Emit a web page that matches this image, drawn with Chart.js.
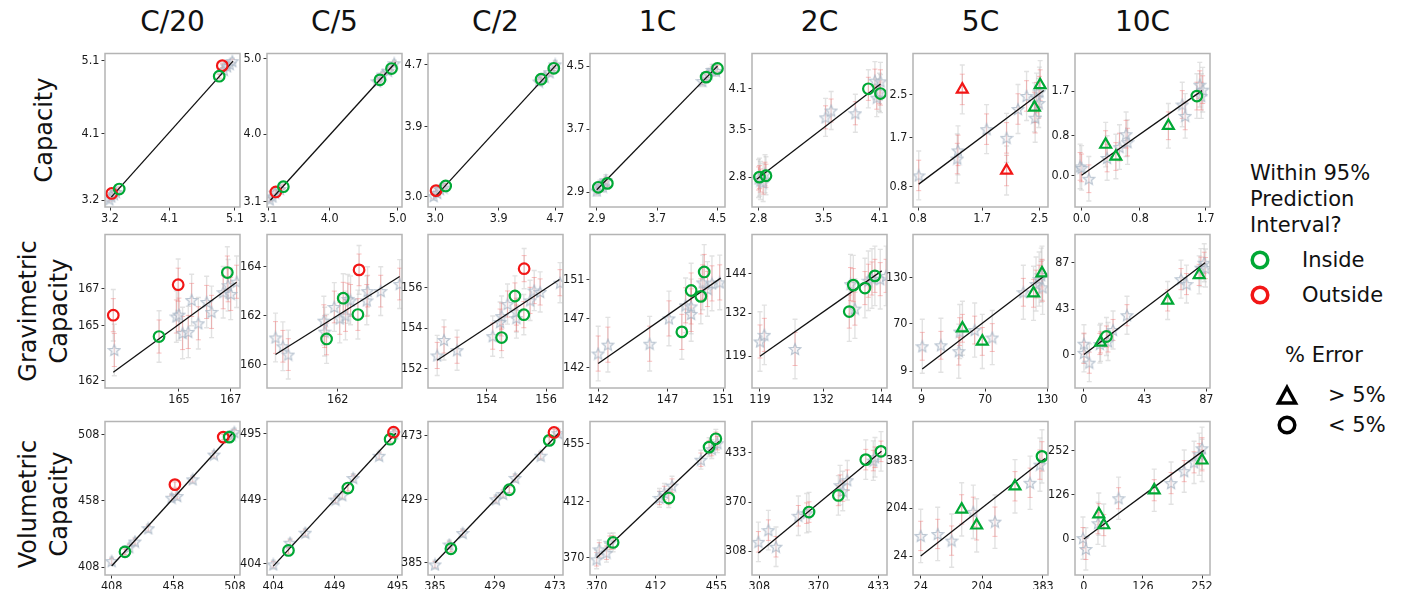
<!DOCTYPE html>
<html>
<head>
<meta charset="utf-8">
<script src="https://cdn.jsdelivr.net/npm/chart.js@4.4.1/dist/chart.umd.min.js"></script>
<style>
  body { margin: 0; background: #fff; width: 1403px; height: 589px; overflow: hidden; position: relative; font-family: "DejaVu Sans", sans-serif; color: #111; }
  canvas.panel { position: absolute; }
  .title { position: absolute; top: 5px; font-size: 28px; transform: translateX(-50%); white-space: nowrap; }
  .rowlab { position: absolute; font-size: 24px; line-height: 31px; text-align: center; white-space: nowrap; transform: translate(-50%, -50%) rotate(-90deg); }
  .leg { position: absolute; font-size: 21px; line-height: 26px; white-space: nowrap; }
  svg.mk { position: absolute; overflow: visible; }
</style>
</head>
<body>
<script>
// column / row names
const columns = ["C/20", "C/5", "C/2", "1C", "2C", "5C", "10C"];
const rowLabels = [["Capacity"], ["Gravimetric", "Capacity"], ["Volumetric", "Capacity"]];
const tickDecimals = [1, 0, 0];

// ---- Capacity row ----
const capXTicks = [[3.2, 4.1, 5.1], [3.1, 4.0, 5.0], [3.0, 3.9, 4.7], [2.9, 3.7, 4.5], [2.8, 3.5, 4.1], [0.8, 1.7, 2.5], [0.0, 0.8, 1.7]];
const capYTicks = capXTicks;
const capXLim = [[3.124, 5.176], [3.08, 5.064], [2.90, 4.81], [2.81, 4.60], [2.73, 4.18], [0.73, 2.62], [-0.09, 1.76]];
const capYLim = [[3.106, 5.194], [3.03, 5.07], [2.87, 4.84], [2.71, 4.66], [2.36, 4.62], [0.43, 3.25], [-0.64, 2.46]];
const capStars = [
  [[3.19, 3.21], [3.22, 3.25], [3.26, 3.28], [3.29, 3.31], [4.93, 4.97], [4.98, 5.02], [5.02, 5.05], [5.06, 5.09]],
  [[3.12, 3.13], [3.16, 3.17], [3.2, 3.22], [3.27, 3.27], [4.70, 4.70], [4.78, 4.79], [4.86, 4.84], [4.95, 4.94]],
  [[2.98, 3.01], [3.03, 3.05], [3.07, 3.1], [3.12, 3.12], [4.47, 4.48], [4.55, 4.54], [4.62, 4.6], [4.70, 4.70]],
  [[2.9, 2.92], [2.94, 2.98], [2.98, 2.97], [3.02, 3.05], [4.30, 4.31], [4.38, 4.40], [4.43, 4.45], [4.48, 4.44]],
  [[2.80, 2.78], [2.82, 2.75], [2.85, 2.72], [2.87, 2.85], [3.52, 3.68], [3.58, 3.78], [3.84, 3.74], [4.05, 4.22], [4.11, 4.21], [4.07, 3.97], [4.1, 4.05]],
  [[0.81, 1.01], [1.35, 1.32], [1.36, 1.47], [1.76, 1.86], [2.04, 1.70], [2.20, 2.23], [2.32, 2.47], [2.46, 2.44], [2.49, 2.34], [2.44, 2.07], [2.5, 2.55]],
  [[-0.02, 0.18], [0.0, 0.15], [0.10, -0.07], [0.35, 0.35], [0.52, 0.57], [0.61, 0.83], [0.63, 0.67], [1.38, 1.43], [1.42, 1.20], [1.62, 1.83], [1.66, 1.73], [1.64, 1.60]]
];
// marks: g/r = inside/outside, c/t = <5% / >5% error
const capMarks = [
  [[3.226, 3.29, "rc"], [3.34, 3.35, "gc"], [4.907, 5.029, "rc"], [4.86, 4.885, "gc"]],
  [[3.21, 3.23, "rc"], [3.32, 3.30, "gc"], [4.74, 4.72, "gc"], [4.91, 4.87, "gc"]],
  [[3.014, 3.08, "rc"], [3.15, 3.14, "gc"], [4.50, 4.51, "gc"], [4.68, 4.65, "gc"]],
  [[2.92, 2.96, "gc"], [3.04, 3.01, "gc"], [4.35, 4.36, "gc"], [4.50, 4.47, "gc"]],
  [[2.81, 2.80, "gc"], [2.88, 2.82, "gc"], [3.98, 4.10, "gc"], [4.11, 4.03, "gc"]],
  [[1.42, 2.59, "rt"], [2.04, 1.10, "rt"], [2.43, 2.26, "gt"], [2.51, 2.67, "gt"]],
  [[0.33, 0.62, "gt"], [0.47, 0.38, "gt"], [1.19, 1.0, "gt"], [1.58, 1.60, "gc"]]
];
const capFit = [[3.22, 3.24, 5.07, 5.09], [3.13, 3.12, 4.97, 4.95], [3.0, 3.0, 4.72, 4.7], [2.9, 2.93, 4.5, 4.5], [2.78, 2.77, 4.11, 4.17], [0.81, 0.85, 2.56, 2.57], [0.0, 0.0, 1.65, 1.71]];
const capErr = [[0.04, 0.025], [0.04, 0.025], [0.05, 0.03], [0.07, 0.04], [0.28, 0.17], [0.45, 0.28], [0.45, 0.28]];

// ---- Gravimetric row ----
const gravXTicks = [[165, 167], [162], [154, 156], [142, 147, 151], [119, 132, 144], [9, 70, 130], [0, 43, 87]];
const gravYTicks = [[162, 165, 167], [160, 162, 164], [152, 154, 156], [142, 147, 151], [119, 132, 144], [9, 70, 130], [0, 43, 87]];
const gravXLim = [[162.14, 167.36], [160.17, 163.66], [152.02, 156.57], [141.41, 151.14], [117.36, 145.09], [0.68, 130.5], [-6.35, 89.6]];
const gravYLim = [[161.61, 169.96], [159.03, 165.32], [151.02, 158.66], [139.91, 155.64], [109.4, 155.8], [-13, 185.7], [-31.7, 113.8]];
const gravStars = [
  [[162.5, 163.68], [164.9, 165.5], [165.0, 165.6], [165.14, 164.6], [165.36, 164.66], [165.49, 166.4], [165.75, 165.13], [166.07, 166.29], [166.26, 165.75], [166.71, 166.82], [167.0, 166.73], [167.23, 167.39], [166.9, 167.2]],
  [[160.39, 161.1], [160.58, 160.74], [160.72, 160.4], [161.64, 161.79], [161.66, 161.34], [161.91, 162.35], [162.05, 161.88], [162.2, 162.0], [162.26, 162.68], [162.33, 162.62], [162.77, 163.0], [162.75, 162.62], [163.11, 163.0], [163.6, 163.29]],
  [[152.33, 152.64], [152.56, 153.41], [153.0, 152.9], [154.2, 153.6], [154.45, 154.3], [154.5, 154.6], [154.7, 155.2], [155.0, 154.5], [155.0, 154.8], [155.46, 155.38], [155.6, 155.87], [155.8, 155.8], [156.47, 156.26]],
  [[142.0, 143.44], [142.7, 144.35], [145.71, 144.45], [147.1, 147.04], [148.3, 148.38], [148.7, 148.27], [148.7, 147.5], [149.53, 150.73], [149.88, 150.06], [150.2, 150.63], [150.76, 150.73]],
  [[119.0, 123.46], [119.9, 125.46], [126.2, 121.2], [138.5, 133.4], [137.6, 140.8], [141.26, 141.83], [142, 142.5], [143.7, 142.3], [144.9, 143.3]],
  [[9.6, 41], [27.5, 42.3], [44.7, 34.7], [45.6, 60], [60, 62], [76.9, 52.3], [106.8, 110.9], [119, 121.6], [122, 128], [125.3, 117.3], [124, 133]],
  [[0, 10.3], [0, 1.6], [3.8, -7.7], [11.3, 10], [17.1, 12.4], [20.7, 23.3], [30.6, 37.3], [69, 71.5], [72.9, 66.8], [83.1, 82.4], [85.5, 87], [86.4, 82]]
];
const gravMarks = [
  [[162.46, 165.57, "rc"], [164.97, 167.23, "rc"], [164.23, 164.41, "gc"], [166.87, 167.89, "gc"]],
  [[162.55, 163.87, "rc"], [162.52, 162.04, "gc"], [161.71, 161.04, "gc"], [162.14, 162.71, "gc"]],
  [[155.26, 156.96, "rc"], [154.95, 155.6, "gc"], [155.25, 154.67, "gc"], [154.5, 153.53, "gc"]],
  [[148.03, 145.66, "gc"], [148.7, 149.9, "gc"], [149.4, 149.3, "gc"], [149.64, 151.8, "gc"]],
  [[137.34, 132.5, "gc"], [138.17, 140.5, "gc"], [140.56, 139.6, "gc"], [142.6, 143.3, "gc"]],
  [[48.2, 64.3, "gt"], [67.3, 47.3, "gt"], [116.6, 109.6, "gt"], [124.7, 135.6, "gt"]],
  [[11.8, 11.5, "gt"], [16.0, 17.1, "gc"], [59.5, 51.3, "gt"], [81.9, 75.5, "gt"]]
];
const gravFit = [[162.46, 162.47, 167.23, 167.36], [160.39, 160.4, 163.6, 163.6], [152.33, 152.4, 156.45, 156.42], [142.0, 142.43, 150.83, 151.17], [119, 119, 144, 144.8], [9.6, 11.5, 125.9, 130.9], [0, 0, 86.1, 87]];
const gravErr = [[1.4, 0.9], [1.0, 0.65], [1.0, 0.65], [2.8, 1.8], [9, 5], [35, 18], [18, 10]];

// ---- Volumetric row ----
const volXTicks = [[408, 458, 508], [404, 449, 495], [385, 429, 473], [370, 412, 455], [308, 370, 433], [24, 204, 383], [0, 126, 252]];
const volYTicks = volXTicks;
const volXLim = [[402.6, 512.1], [399.4, 498.2], [379.9, 478.9], [365.3, 461.1], [300.3, 442.1], [1.4, 397.7], [-19, 269]];
const volYLim = [[402, 518], [396.1, 503.6], [376.5, 482.9], [357.1, 471.6], [277.7, 472.1], [-47, 528.8], [-102, 334]];
const volStars = [
  [[408, 412.5], [422.3, 423], [426.9, 427.3], [437.7, 437.3], [456.6, 460.4], [461.2, 461.7], [473.7, 474.3], [491, 493], [505.3, 508], [507.5, 510]],
  [[404, 403.5], [416.3, 418.7], [427.4, 425.7], [449.5, 448.9], [454.5, 452], [462.5, 464], [481.5, 479.6], [492.5, 495.4]],
  [[385, 383.8], [395.5, 397.6], [405.3, 405.6], [429.7, 429], [435, 432.7], [443.8, 443.8], [462.5, 459.2], [475.4, 474.8]],
  [[370, 368.8], [371.9, 376.2], [377, 373.7], [379.4, 381.2], [414.6, 414.6], [418.1, 418.3], [423.5, 423.8], [444, 443.1], [451.7, 451], [455.7, 455.4]],
  [[307, 319.7], [317.5, 334.5], [325.5, 313.5], [349, 352.7], [357.7, 356], [392.8, 391.5], [395.6, 384], [400.4, 397.7], [427.7, 422.6], [429.5, 426.8]],
  [[24, 99.6], [73.9, 107], [114.9, 82], [178.4, 190], [242, 153], [345, 299], [374, 367]],
  [[-2, 2.8], [4.2, -28], [30, 45], [74, 116], [186, 159], [214, 193], [235, 218], [246, 241], [252, 258]]
];
const volMarks = [
  [[418.8, 419.5, "gc"], [459.3, 470.3, "rc"], [498.5, 506.2, "rc"], [503.4, 506.2, "gc"]],
  [[415.1, 413.3, "gc"], [458.6, 457.0, "gc"], [489.5, 491.2, "gc"], [492, 496.1, "rc"]],
  [[396.7, 394.7, "gc"], [439.5, 435.6, "gc"], [468.8, 469.8, "gc"], [472.3, 475.3, "rc"]],
  [[381.7, 381.4, "gc"], [421.2, 414.5, "gc"], [449.8, 452.5, "gc"], [454.6, 458.7, "gc"]],
  [[360.2, 357.4, "gc"], [391, 378.5, "gc"], [419.8, 423.8, "gc"], [435.8, 434.3, "gc"]],
  [[144.3, 199.1, "gt"], [188.3, 139.3, "gt"], [300.8, 285.8, "gt"], [380, 398, "gc"]],
  [[31.8, 70.8, "gt"], [42.4, 39.7, "gt"], [150, 138.8, "gt"], [252, 223.7, "gt"]]
];
const volFit = [[408, 408.8, 506.6, 509.7], [404, 402.3, 493.7, 495.4], [385, 385, 476.2, 475.3], [370, 370, 456.9, 456.7], [307, 305.5, 436.3, 434.3], [24, 24.5, 389, 390], [0, 0, 256, 252]];
const volErr = [[3, 2], [3, 2], [3, 2], [7, 5], [25, 13], [100, 55], [60, 30]];

const rows = [
  { xt: capXTicks, yt: capYTicks, xl: capXLim, yl: capYLim, stars: capStars, marks: capMarks, fit: capFit, err: capErr },
  { xt: gravXTicks, yt: gravYTicks, xl: gravXLim, yl: gravYLim, stars: gravStars, marks: gravMarks, fit: gravFit, err: gravErr },
  { xt: volXTicks, yt: volYTicks, xl: volXLim, yl: volYLim, stars: volStars, marks: volMarks, fit: volFit, err: volErr }
];

// layout
const colLeft = [105, 267, 428, 590, 752, 913, 1075];
const rowTop = [52, 233, 420];
const boxW = 135, boxH = 155;
const padL = 46, padT = 8, padR = 14, padB = 26;

const GREEN = "#00a835";
const RED = "#f21616";
const FONT = { family: "'DejaVu Sans Condensed', 'DejaVu Sans'", size: 12.5 };

function makeStar(size) {
  const c = document.createElement("canvas");
  c.width = c.height = size;
  const g = c.getContext("2d");
  const cx = size / 2, cy = size / 2 + 0.6, R = size / 2 - 1, r = R * 0.45;
  g.beginPath();
  for (let i = 0; i < 10; i++) {
    const a = -Math.PI / 2 + i * Math.PI / 5;
    const rr = i % 2 ? r : R;
    g.lineTo(cx + rr * Math.cos(a), cy + rr * Math.sin(a));
  }
  g.closePath();
  g.fillStyle = "rgba(232,235,240,0.45)";
  g.fill();
  g.strokeStyle = "rgba(165,180,196,0.75)";
  g.lineWidth = 1.2;
  g.stroke();
  return c;
}
const starImg = makeStar(14);

// error bars under the points + grey frame around the axes
function extrasPlugin(points, err) {
  return {
    id: "extras",
    beforeDatasetsDraw(chart) {
      const { ctx, chartArea: a, scales: { x, y } } = chart;
      ctx.save();
      ctx.beginPath();
      ctx.rect(a.left, a.top, a.right - a.left, a.bottom - a.top);
      ctx.clip();
      const bar = (vx, vy, e, color, w) => {
        const px = x.getPixelForValue(vx);
        const y1 = y.getPixelForValue(vy - e), y2 = y.getPixelForValue(vy + e);
        ctx.strokeStyle = color;
        ctx.lineWidth = w;
        ctx.beginPath();
        ctx.moveTo(px, y1); ctx.lineTo(px, y2);
        ctx.moveTo(px - 2.5, y1); ctx.lineTo(px + 2.5, y1);
        ctx.moveTo(px - 2.5, y2); ctx.lineTo(px + 2.5, y2);
        ctx.stroke();
      };
      points.forEach(p => bar(p[0], p[1], err[0], "rgba(190,190,190,0.45)", 1.4));
      points.forEach(p => bar(p[0], p[1], err[1], "rgba(245,115,115,0.45)", 1));
      ctx.restore();
    },
    afterDraw(chart) {
      const { ctx, chartArea: a } = chart;
      ctx.save();
      ctx.strokeStyle = "#b4b4b4";
      ctx.lineWidth = 1.5;
      ctx.strokeRect(a.left, a.top, a.right - a.left, a.bottom - a.top);
      ctx.restore();
    }
  };
}

function axis(lim, ticks, dec, isY) {
  return {
    type: "linear",
    min: lim[0],
    max: lim[1],
    afterBuildTicks: s => { s.ticks = ticks.map(v => ({ value: v })); },
    afterFit: s => { if (isY) s.width = padL; else s.height = padB; },
    grid: { display: true, drawOnChartArea: false, drawTicks: true, tickLength: 3.5, tickColor: "#333", tickWidth: 1 },
    border: { display: false },
    ticks: {
      font: FONT, color: "#1a1a1a", padding: isY ? 2 : 1,
      autoSkip: false, maxRotation: 0,
      callback: v => Number(v).toFixed(dec)
    }
  };
}

function addDiv(cls, html, css) {
  const d = document.createElement("div");
  d.className = cls;
  d.innerHTML = html;
  Object.assign(d.style, css);
  document.body.appendChild(d);
  return d;
}

// column titles
columns.forEach((t, c) => addDiv("title", t, { left: (colLeft[c] + boxW / 2) + "px" }));
// row labels
rowLabels.forEach((lines, r) => addDiv("rowlab", lines.join("<br>"), { left: "44px", top: (rowTop[r] + boxH / 2 + (r === 2 ? 6 : 0)) + "px" }));

rows.forEach((row, r) => {
  for (let c = 0; c < 7; c++) {
    const cv = document.createElement("canvas");
    cv.className = "panel";
    cv.width = padL + boxW + padR;
    cv.height = padT + boxH + padB;
    cv.style.left = (colLeft[c] - padL) + "px";
    cv.style.top = (rowTop[r] - padT) + "px";
    document.body.appendChild(cv);

    const stars = row.stars[c];
    const marks = row.marks[c];
    const fit = row.fit[c];
    const allPts = stars.concat(marks.map(m => [m[0], m[1]]));

    new Chart(cv, {
      type: "scatter",
      data: {
        datasets: [
          {
            label: "marks",
            order: 0,
            data: marks.map(m => ({ x: m[0], y: m[1] })),
            pointStyle: marks.map(m => m[2][1] === "t" ? "triangle" : "circle"),
            pointRadius: marks.map(m => m[2][1] === "t" ? 6.3 : 5.3),
            pointBorderColor: marks.map(m => m[2][0] === "g" ? GREEN : RED),
            pointBackgroundColor: "rgba(0,0,0,0)",
            pointBorderWidth: 2.2
          },
          {
            label: "fit",
            order: 1,
            data: [{ x: fit[0], y: fit[1] }, { x: fit[2], y: fit[3] }],
            showLine: true,
            borderColor: "#111",
            borderWidth: 1.3,
            pointRadius: 0
          },
          {
            label: "stars",
            order: 2,
            data: stars.map(p => ({ x: p[0], y: p[1] })),
            pointStyle: starImg,
            pointRadius: 7
          }
        ]
      },
      options: {
        responsive: false,
        animation: false,
        events: [],
        layout: { padding: { left: 0, top: padT, right: padR, bottom: 0 } },
        plugins: { legend: { display: false }, tooltip: { enabled: false } },
        scales: {
          x: axis(row.xl[c], row.xt[c], tickDecimals[r], false),
          y: axis(row.yl[c], row.yt[c], tickDecimals[r], true)
        }
      },
      plugins: [extrasPlugin(allPts, row.err[c])]
    });
  }
});

// legend (right side)
addDiv("leg", "Within 95%<br>Prediction<br>Interval?", { left: "1250px", top: "160px" });
addDiv("leg", "Inside", { left: "1302px", top: "247px" });
addDiv("leg", "Outside", { left: "1302px", top: "282px" });
addDiv("leg", "% Error", { left: "1285px", top: "342px" });
addDiv("leg", "&gt; 5%", { left: "1328px", top: "382px" });
addDiv("leg", "&lt; 5%", { left: "1328px", top: "412px" });

function svgMarker(cx, cy, shape, color) {
  const ns = "http://www.w3.org/2000/svg";
  const s = document.createElementNS(ns, "svg");
  s.setAttribute("class", "mk");
  s.setAttribute("width", "24");
  s.setAttribute("height", "24");
  s.style.left = (cx - 12) + "px";
  s.style.top = (cy - 12) + "px";
  let el;
  if (shape === "circle") {
    el = document.createElementNS(ns, "circle");
    el.setAttribute("cx", "12"); el.setAttribute("cy", "12"); el.setAttribute("r", "7.8");
  } else {
    el = document.createElementNS(ns, "polygon");
    el.setAttribute("points", "12,3.5 20.5,19 3.5,19");
  }
  el.setAttribute("fill", "none");
  el.setAttribute("stroke", color);
  el.setAttribute("stroke-width", "3.5");
  el.setAttribute("stroke-linejoin", "miter");
  s.appendChild(el);
  document.body.appendChild(s);
}
svgMarker(1260, 260, "circle", GREEN);
svgMarker(1260, 295, "circle", RED);
svgMarker(1287, 396, "triangle", "#000");
svgMarker(1287, 425, "circle", "#000");
</script>
</body>
</html>
